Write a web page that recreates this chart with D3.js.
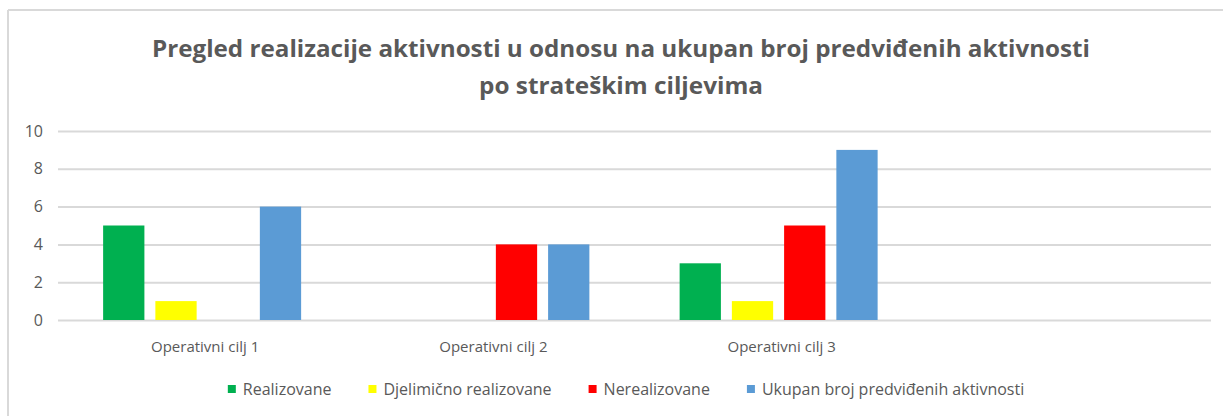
<!DOCTYPE html>
<html>
<head>
<meta charset="utf-8">
<script src="https://cdn.jsdelivr.net/npm/d3@7"></script>
<style>
  html, body { margin: 0; padding: 0; background: #fff; }
  svg { display: block; }
  text { font-family: "Open Sans", "Liberation Sans", sans-serif; fill: #595959; }
</style>
</head>
<body>
<svg id="chart" width="1223" height="416"></svg>
<script>
// Pregled realizacije aktivnosti - grouped bar chart
const categories = ['Operativni cilj 1', 'Operativni cilj 2', 'Operativni cilj 3', ''];
const seriesNames = ['Realizovane', 'Djelimično realizovane', 'Nerealizovane', 'Ukupan broj predviđenih aktivnosti'];
const seriesColors = ['#00B050', '#FFFF00', '#FF0000', '#5B9BD5'];
const realizovane = [5, 0, 3, null];
const djelimicno = [1, 0, 1, null];
const nerealizovane = [0, 4, 5, null];
const ukupno = [6, 4, 9, null];
const yTicks = [0, 2, 4, 6, 8, 10];
const titleLines = [
    'Pregled realizacije aktivnosti u odnosu na ukupan broj predviđenih aktivnosti',
    'po strateškim ciljevima'
];

const seriesValues = [realizovane, djelimicno, nerealizovane, ukupno];

const svg = d3.select('#chart');
const W = 1223;

// chart frame (only top and left edge are visible in the picture)
svg.append('line').attr('x1', 8).attr('x2', W).attr('y1', 10).attr('y2', 10)
    .attr('stroke', '#d9d9d9').attr('stroke-width', 2);
svg.append('line').attr('x1', 8).attr('x2', 8).attr('y1', 10).attr('y2', 416)
    .attr('stroke', '#d9d9d9').attr('stroke-width', 2);

// title
const title = svg.append('g');
titleLines.forEach((t, i) => {
    const el = title.append('text')
        .attr('x', 621)
        .attr('y', 57 + i * 37)
        .attr('text-anchor', 'middle')
        .style('font-family', '"Open Sans", sans-serif')
        .style('font-weight', 'bold')
        .style('font-size', '24px')
        .text(t);
    // squeeze to the narrower look of the original title
    const target = i === 0 ? 938 : 284;
    el.attr('textLength', target).attr('lengthAdjust', 'spacingAndGlyphs');
});

const margin = { left: 58, right: 12, top: 131, bottom: 96 };
const plotW = W - margin.left - margin.right;
const plotTop = 131, plotBottom = 320;

const x = d3.scaleBand()
    .domain(categories.map((c, i) => i))
    .range([margin.left, margin.left + plotW])
    .padding(0);

const groupW = 198;
const xInner = d3.scaleBand()
    .domain(d3.range(seriesNames.length))
    .range([0, groupW])
    .paddingInner(0.21);

const y = d3.scaleLinear()
    .domain([0, 10])
    .range([plotBottom, plotTop]);

// gridlines
svg.append('g')
    .attr('transform', `translate(${margin.left},0)`)
    .call(d3.axisLeft(y).tickValues(yTicks).tickSize(-plotW).tickFormat(''))
    .call(g => g.select('.domain').remove())
    .call(g => g.selectAll('line').attr('stroke', '#d9d9d9').attr('stroke-width', 2));

// y labels
svg.append('g')
    .attr('transform', `translate(${margin.left},0)`)
    .call(d3.axisLeft(y).tickValues(yTicks).tickSize(0).tickPadding(15))
    .call(g => g.select('.domain').remove())
    .call(g => g.selectAll('text')
        .style('font-size', '16px')
        .style('fill', '#595959'));

// bars
const groups = svg.append('g').selectAll('g')
    .data(categories.map((c, i) => i))
    .join('g')
    .attr('transform', i => `translate(${x(i) + (x.bandwidth() - groupW) / 2},0)`);

groups.selectAll('rect')
    .data(i => seriesValues.map((vals, s) => ({ s, v: vals[i] })).filter(d => d.v))
    .join('rect')
    .attr('x', d => xInner(d.s))
    .attr('width', xInner.bandwidth())
    .attr('y', d => y(d.v))
    .attr('height', d => y(0) - y(d.v))
    .attr('fill', d => seriesColors[d.s]);

// x labels
svg.append('g')
    .attr('transform', `translate(0,${plotBottom})`)
    .call(d3.axisBottom(x).tickSize(0).tickPadding(21).tickFormat(i => categories[i]))
    .call(g => g.select('.domain').remove())
    .call(g => g.selectAll('text')
        .attr('dx', 3)
        .style('font-size', '15px')
        .style('fill', '#595959'));

// legend
const legend = svg.append('g');
const items = legend.selectAll('g')
    .data(seriesNames)
    .join('g');
items.append('rect')
    .attr('width', 8).attr('height', 8)
    .attr('y', 385)
    .attr('fill', (d, i) => seriesColors[i]);
items.append('text')
    .attr('x', 15)
    .attr('y', 395)
    .style('font-size', '16px')
    .text(d => d);

let widths = [];
items.select('text').each(function() { widths.push(this.getComputedTextLength()); });
const gap = 37;
const total = d3.sum(widths) + widths.length * 15 + (widths.length - 1) * gap;
let cx = 626 - total / 2;
items.attr('transform', (d, i) => {
    const t = `translate(${cx},0)`;
    cx += 15 + widths[i] + gap;
    return t;
});
</script>
</body>
</html>
